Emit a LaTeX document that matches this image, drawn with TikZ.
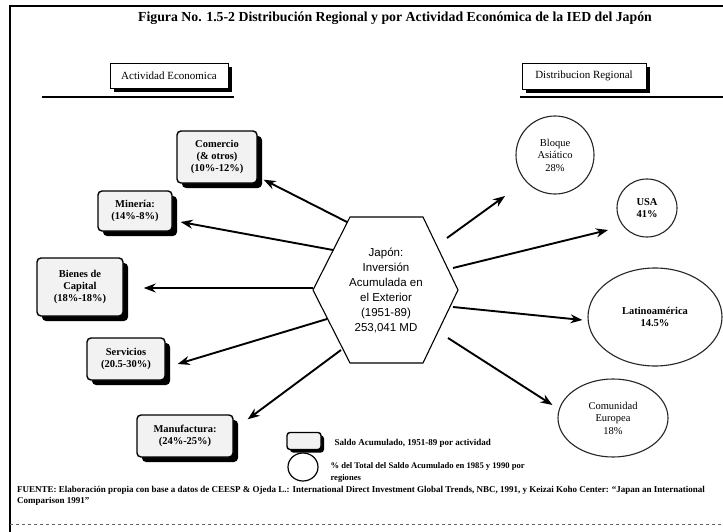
\documentclass[tikz,border=0pt]{standalone}
\usepackage{fontspec}
\setmainfont{Liberation Serif}
\newfontfamily\arialf{Liberation Sans}
\usetikzlibrary{shapes.geometric,shadows,arrows.meta,calc}
\begin{document}
\begin{tikzpicture}[x=1pt,y=-1pt,
  actbox/.style={draw,line width=1.4pt,rounded corners=4pt,fill=gray!10,align=center,
    font=\fontsize{10.5}{12}\selectfont\bfseries,inner sep=2pt,
    drop shadow={shadow xshift=5pt,shadow yshift=-5pt,fill=black,opacity=1}},
  hdrbox/.style={draw,line width=0.8pt,fill=white,inner sep=3pt,
    font=\fontsize{11}{13}\selectfont,
    drop shadow={shadow xshift=4pt,shadow yshift=-4pt,fill=black,opacity=1}},
  regn/.style={draw=black!85,line width=1.1pt,ellipse,align=center,inner sep=0pt,
    font=\fontsize{10.5}{12.5}\selectfont},
  arr/.style={line width=1.9pt,-{Stealth[length=12pt,width=9pt]}},
  rule/.style={line width=1.5pt}
]
\useasboundingbox (0,0) rectangle (723,532);
\fill[white] (0,0) rectangle (723,532);
% frame
\draw[line width=1.2pt] (10,532) -- (10,6) -- (723,6);
\draw[dashed,black!60,line width=0.8pt] (10,524) -- (723,524);
% title
\node[font=\fontsize{13.8}{15}\selectfont\bfseries] (title) at (395,18)
  {Figura No. 1.5-2 Distribución Regional y por Actividad Económica de la IED del Japón};
% headers
\draw[rule] (42,97) -- (234,97);
\draw[rule] (520,97) -- (723,97);
\node[hdrbox,minimum width=118pt,minimum height=25pt] (hact) at (169,76) {Actividad Economica};
\node[hdrbox,minimum width=124pt,minimum height=26pt] (hdist) at (584,76) {Distribucion Regional};
% hexagon
\draw[line width=1.1pt] (350,217) -- (423,217) -- (458,290) -- (423,363) -- (350,363) -- (313,290) -- cycle;
\node[align=center,font=\arialf\fontsize{11.5}{15}\selectfont] (hex) at (386,290)
  {Japón:\\Inversión\\Acumulada en\\el Exterior\\(1951-89)\\253,041 MD};
% left boxes
\node[actbox,minimum width=80pt,minimum height=52pt] (com) at (217,157) {Comercio\\(\& otros)\\(10\%-12\%)};
\node[actbox,minimum width=74pt,minimum height=40pt] (min) at (135,211) {Minería:\\(14\%-8\%)};
\node[actbox,minimum width=86pt,minimum height=58pt] (bie) at (80,287) {Bienes de\\Capital\\(18\%-18\%)};
\node[actbox,minimum width=78pt,minimum height=42pt] (ser) at (126,359) {Servicios\\(20.5-30\%)};
\node[actbox,minimum width=96pt,minimum height=42pt] (man) at (185,436) {Manufactura:\\(24\%-25\%)};
% regions
\node[regn,minimum width=78pt,minimum height=78pt] (blo) at (555,155) {Bloque\\Asiático\\28\%};
\node[regn,minimum width=60pt,minimum height=58pt,font=\fontsize{10.5}{12.5}\selectfont\bfseries] (usa) at (647,208) {USA\\41\%};
\node[regn,minimum width=134pt,minimum height=98pt,font=\fontsize{10.5}{12.5}\selectfont\bfseries] (lat) at (655,317) {Latinoamérica\\14.5\%};
\node[regn,minimum width=110pt,minimum height=78pt] (ce) at (613,418) {Comunidad\\Europea\\18\%};
% arrow starts
\coordinate (s1) at (347,222);
\coordinate (s2) at (333,250);
\coordinate (s3) at (313,288);
\coordinate (s4) at (327,319);
\coordinate (s5) at (341,350);
\coordinate (r1) at (447,238);
\coordinate (r2) at (453,268);
\coordinate (r3) at (453,307);
\coordinate (r4) at (448,338);
% arrows left
\draw[arr] (s1) -- ($(com.south east)+(6,-4)$);
\draw[arr] (s2) -- ($(min.east)+(8,11)$);
\draw[arr] (s3) -- ($(bie.east)+(20,1)$);
\draw[arr] (s4) -- ($(ser.east)+(12,5)$);
\draw[arr] (s5) -- ($(man.north east)+(14,5)$);
% arrows right
\draw[arr] (r1) -- ($(blo)+(-50,41)$);
\draw[arr] (r2) -- ($(usa)+(-39,22)$);
\draw[arr] (r3) -- ($(lat.west)+(-5,3)$);
\draw[arr] (r4) -- ($(ce.west)+(-5,-13)$);
% legend
\node[draw,line width=1.4pt,rounded corners=3pt,fill=gray!10,minimum width=34pt,minimum height=17pt,
  drop shadow={shadow xshift=3pt,shadow yshift=-3pt,fill=black,opacity=1}] (lbox) at (304,441) {};
\node[draw,line width=1.2pt,ellipse,minimum width=30pt,minimum height=28pt,inner sep=0pt] (lcirc) at (303,467) {};
\node[anchor=west,font=\fontsize{9}{10}\selectfont\bfseries] (ltxt1) at (331,443) {Saldo Acumulado, 1951-89 por actividad};
\node[anchor=north west,align=left,font=\fontsize{8.6}{12}\selectfont\bfseries] (ltxt2) at (327,459)
  {\% del Total del Saldo Acumulado en 1985 y 1990 por\\regiones};
% source
\node[anchor=north west,align=left,font=\fontsize{9}{11}\selectfont\bfseries,inner sep=0pt] (src) at (17,486)
  {FUENTE: Elaboración propia con base a datos de CEESP \& Ojeda L.: International Direct Investment Global Trends, NBC, 1991, y Keizai Koho Center: ``Japan an International\\Comparison 1991''};
\end{tikzpicture}
\end{document}
